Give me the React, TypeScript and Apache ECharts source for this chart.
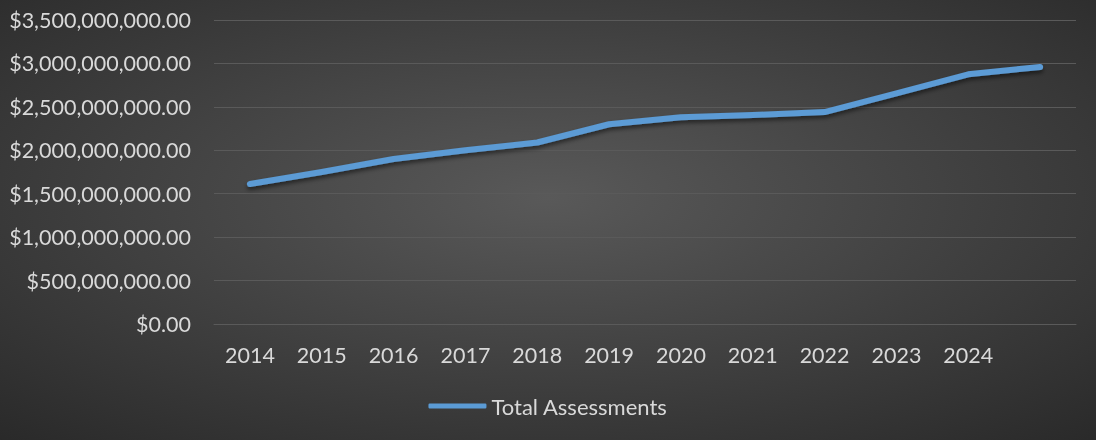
import React, { useEffect, useRef } from "react";
import * as echarts from "echarts";

const categories = ["2014", "2015", "2016", "2017", "2018", "2019", "2020", "2021", "2022", "2023", "2024", ""];
const totalAssessments = [
  1612000000, 1750000000, 1900000000, 2000000000, 2090000000, 2300000000,
  2380000000, 2406000000, 2440000000, 2656000000, 2875000000, 2960000000,
];
const yMax = 3500000000;
const yInterval = 500000000;

const fmt = (v: number) =>
  "$" + v.toLocaleString("en-US", { minimumFractionDigits: 2, maximumFractionDigits: 2 });

export default function App() {
  const ref = useRef<HTMLDivElement>(null);
  useEffect(() => {
    if (!ref.current) return;
    const chart = echarts.init(ref.current, null, { renderer: "svg" });
    const font = "Lato";
    const textColor = "#d9d9d9";
    chart.setOption({
      animation: false,
      backgroundColor: new echarts.graphic.RadialGradient(0.5, 0.45, 0.8, [
        { offset: 0, color: "#595959" },
        { offset: 1, color: "#262626" },
      ]),
      grid: { left: 214, right: 20, top: 20, bottom: 116 },
      legend: {
        bottom: 18,
        left: "center",
        icon: "roundRect",
        itemWidth: 58,
        itemHeight: 5,
        itemGap: 3,
        textStyle: { color: textColor, fontFamily: font, fontSize: 22 },
        data: ["Total Assessments"],
      },
      xAxis: {
        type: "category",
        data: categories,
        boundaryGap: true,
        axisLine: { show: true, lineStyle: { color: "#5a5a5a", width: 1 } },
        axisTick: { show: false },
        axisLabel: { color: textColor, fontFamily: font, fontSize: 21.5, margin: 20, interval: 0 },
      },
      yAxis: {
        type: "value",
        min: 0,
        max: yMax,
        interval: yInterval,
        axisLine: { show: false },
        axisTick: { show: false },
        axisLabel: { color: textColor, fontFamily: font, fontSize: 21.5, margin: 23, formatter: fmt },
        splitLine: { lineStyle: { color: "#5a5a5a", width: 1 } },
      },
      series: [
        {
          name: "Total Assessments",
          type: "line",
          data: totalAssessments,
          symbol: "none",
          lineStyle: {
            color: "#5b9bd5",
            width: 6,
            cap: "round",
            join: "round",
            shadowColor: "rgba(0,0,0,0.5)",
            shadowBlur: 4,
            shadowOffsetY: 3,
          },
          itemStyle: { color: "#5b9bd5" },
        },
      ],
    });
    return () => chart.dispose();
  }, []);
  return (
    <div
      ref={ref}
      style={{ position: "fixed", left: 0, top: 0, width: 1096, height: 440 }}
    />
  );
}
